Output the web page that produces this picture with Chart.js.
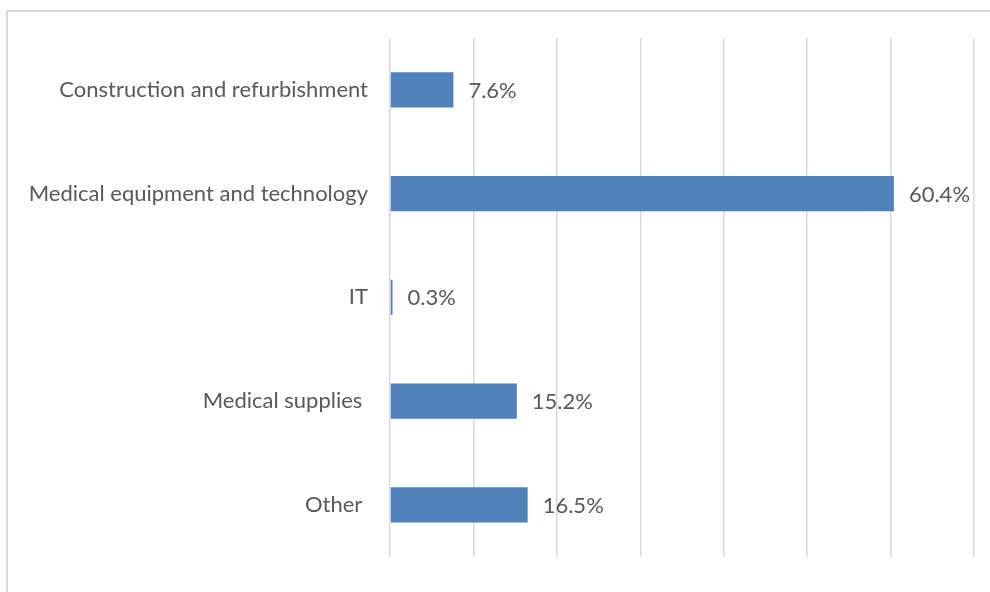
<!DOCTYPE html>
<html lang="en">
<head>
    <meta charset="UTF-8">
    <title>Spending by category</title>
    <script src="https://cdn.jsdelivr.net/npm/chart.js"></script>
    <style>
        html, body {
            margin: 0;
            padding: 0;
            background: #fff;
            overflow: hidden;
        }
        .frame {
            position: absolute;
            left: 6px;
            top: 10px;
            width: 1010px;
            height: 610px;
            border: 2px solid #d9d9d9;
        }
        .chart-container {
            position: absolute;
            left: 0;
            top: 0;
            width: 990px;
            height: 592px;
        }
    </style>
</head>
<body>
    <div class="frame"></div>
    <div class="chart-container">
        <canvas id="barChart"></canvas>
    </div>

    <script>
        // Categories (trailing spaces kept as in the original labels)
        const categories = [
            'Construction and refurbishment',
            'Medical equipment and technology',
            'IT',
            'Medical supplies ',
            'Other '
        ];
        // Share of spending, percent
        const shares = [7.6, 60.4, 0.3, 15.2, 16.5];

        const textColor = '#595959';
        const barColor = '#4f81bd';
        const fontFamily = 'Lato, "Liberation Sans", sans-serif';

        // Writes the percentage just past the end of each bar
        const valueLabels = {
            id: 'valueLabels',
            afterDatasetsDraw(chart) {
                const ctx = chart.ctx;
                const meta = chart.getDatasetMeta(0);
                ctx.save();
                ctx.font = '22px ' + fontFamily;
                ctx.fillStyle = textColor;
                ctx.textAlign = 'left';
                ctx.textBaseline = 'middle';
                meta.data.forEach((bar, i) => {
                    ctx.fillText(shares[i].toFixed(1) + '%', bar.x + 15, bar.y + 1);
                });
                ctx.restore();
            }
        };

        const ctx = document.getElementById('barChart').getContext('2d');
        new Chart(ctx, {
            type: 'bar',
            data: {
                labels: categories,
                datasets: [{
                    data: shares,
                    backgroundColor: barColor,
                    borderWidth: 0,
                    categoryPercentage: 1,
                    barPercentage: 0.34
                }]
            },
            options: {
                indexAxis: 'y',
                responsive: true,
                maintainAspectRatio: false,
                animation: false,
                layout: {
                    padding: { top: 38, bottom: 20, right: 16, left: 0 }
                },
                plugins: {
                    legend: { display: false },
                    tooltip: { enabled: false }
                },
                scales: {
                    x: {
                        min: 0,
                        max: 70,
                        afterFit(scale) { scale.height = 0; },
                        ticks: { display: false, stepSize: 10 },
                        grid: {
                            color: '#d9d9d9',
                            lineWidth: 1.5,
                            drawTicks: false
                        },
                        border: { display: false }
                    },
                    y: {
                        afterFit(scale) { scale.width = 390; },
                        ticks: {
                            color: textColor,
                            padding: 22,
                            font: { family: fontFamily, size: 22 }
                        },
                        grid: { display: false, drawTicks: false },
                        border: { display: false }
                    }
                }
            },
            plugins: [valueLabels]
        });
    </script>
</body>
</html>
